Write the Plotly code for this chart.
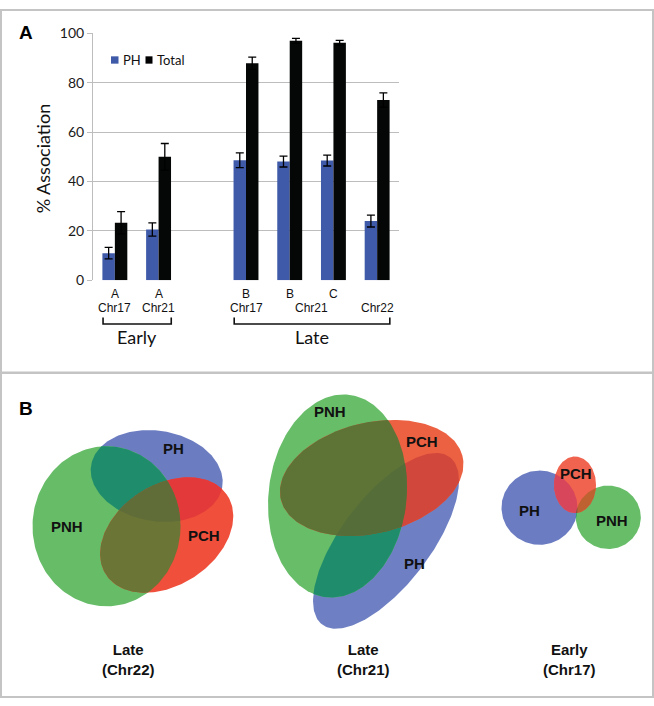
import plotly.graph_objects as go
import numpy as np

# ---------------- data (panel A) ----------------
strain = ["A", "A", "B", "B", "C", ""]
chrom = ["Chr17", "Chr21", "Chr17", "Chr21", "Chr21", "Chr22"]
stage = ["Early", "Early", "Late", "Late", "Late", "Late"]
ph = [11.0, 20.6, 48.6, 48.1, 48.5, 24.0]
ph_err = [2.3, 2.7, 3.0, 2.2, 2.2, 2.4]
total = [23.3, 50.0, 87.9, 97.0, 96.2, 73.0]
total_err = [4.5, 5.4, 2.5, 1.0, 1.0, 2.9]
y_ticks = [0, 20, 40, 60, 80, 100]

W, H = 654, 706
def px(x): return x / W
def py(y): return 1 - y / H

# x positions: one empty slot between the Early and Late groups
stages_order = []
for s in stage:
    if s not in stages_order:
        stages_order.append(s)
pos = [i + stages_order.index(s) for i, s in enumerate(stage)]

BLUE = "#3F5AA8"
fig = go.Figure()
fig.add_trace(go.Bar(x=pos, y=ph, name="PH", marker=dict(color=BLUE, line=dict(width=0)),
                     error_y=dict(type="data", array=ph_err, visible=True, color="#000000", thickness=1.3, width=4),
                     xaxis="x", yaxis="y", showlegend=False, hoverinfo="skip"))
fig.add_trace(go.Bar(x=pos, y=total, name="Total", marker=dict(color="#050707", line=dict(width=0)),
                     error_y=dict(type="data", array=total_err, visible=True, color="#000000", thickness=1.3, width=4),
                     xaxis="x", yaxis="y", showlegend=False, hoverinfo="skip"))

annotations = []
shapes = []
GRID = "#BDBDBD"

# x labels
for p, s in zip(pos, strain):
    if s:
        annotations.append(dict(x=p, xref="x", y=py(292), yref="paper", text=s, showarrow=False,
                                font=dict(family="Liberation Sans", size=12, color="#111"),
                                xanchor="center", yanchor="middle"))
groups = {}
for p, s, c in zip(pos, stage, chrom):
    groups.setdefault((s, c), []).append(p)
for (s, c), ps in groups.items():
    annotations.append(dict(x=float(np.mean(ps)), xref="x", y=py(306), yref="paper", text=c, showarrow=False,
                            font=dict(family="Liberation Sans", size=12, color="#111"),
                            xanchor="center", yanchor="middle"))
# stage brackets
for st in stages_order:
    ps = [p for p, s in zip(pos, stage) if s == st]
    x0, x1 = min(ps) - 0.27, max(ps) + 0.29
    shapes.append(dict(type="path", xref="x", yref="paper",
                       path=f"M {x0},{py(316)} L {x0},{py(322.7)} L {x1},{py(322.7)} L {x1},{py(316)}",
                       line=dict(color="#111", width=1.6)))
    annotations.append(dict(x=float(np.mean(ps)), xref="x", y=py(336), yref="paper", text=st, showarrow=False,
                            font=dict(family="Lato", size=18, color="#111"), xanchor="center", yanchor="middle"))

# y title
annotations.append(dict(x=px(43), y=py(153), xref="paper", yref="paper", text="% Association", textangle=-90,
                        showarrow=False, font=dict(family="Lato", size=18, color="#111"),
                        xanchor="center", yanchor="middle"))
# legend (manual)
shapes.append(dict(type="rect", xref="paper", yref="paper", x0=px(111), x1=px(118.5), y0=py(56), y1=py(48.5),
                   fillcolor=BLUE, line=dict(width=0)))
shapes.append(dict(type="rect", xref="paper", yref="paper", x0=px(145.5), x1=px(152.5), y0=py(56), y1=py(48.5),
                   fillcolor="#000", line=dict(width=0)))
annotations.append(dict(x=px(121), y=py(52.5), xref="paper", yref="paper", text="PH", showarrow=False,
                        font=dict(family="Lato", size=13, color="#111"), xanchor="left", yanchor="middle"))
annotations.append(dict(x=px(154.5), y=py(52.5), xref="paper", yref="paper", text="Total", showarrow=False,
                        font=dict(family="Lato", size=13, color="#111"), xanchor="left", yanchor="middle"))
# panel letters
annotations.append(dict(x=px(25.5), y=py(24), xref="paper", yref="paper", text="<b>A</b>", showarrow=False,
                        font=dict(family="Liberation Sans", size=19, color="#000"), xanchor="center", yanchor="middle"))
annotations.append(dict(x=px(25.5), y=py(409), xref="paper", yref="paper", text="<b>B</b>", showarrow=False,
                        font=dict(family="Liberation Sans", size=19, color="#000"), xanchor="center", yanchor="middle"))
# panel borders
BORDER = "#C4C4C4"
shapes.append(dict(type="rect", xref="paper", yref="paper", x0=px(1), x1=px(653), y0=py(1), y1=py(372.5),
                   line=dict(color=BORDER, width=2), fillcolor="rgba(0,0,0,0)"))
shapes.append(dict(type="rect", xref="paper", yref="paper", x0=px(1), x1=px(653), y0=py(373), y1=py(705),
                   line=dict(color=BORDER, width=2), fillcolor="rgba(0,0,0,0)"))

# ---------------- panel B: Venn diagrams ----------------
def ellipse(cx, cy, a, b, ang, n=220):
    t = np.linspace(0, 2 * np.pi, n, endpoint=False)
    r = np.deg2rad(ang)
    x = cx + a * np.cos(t) * np.cos(r) - b * np.sin(t) * np.sin(r)
    y = cy - (a * np.cos(t) * np.sin(r) + b * np.sin(t) * np.cos(r))
    return list(zip(x, y))

def area(poly):
    s = 0.0
    for i in range(len(poly)):
        x1, y1 = poly[i]; x2, y2 = poly[(i + 1) % len(poly)]
        s += x1 * y2 - x2 * y1
    return s / 2

def clip(subject, clipper):
    if area(clipper) < 0:
        clipper = clipper[::-1]
    def inside(p, a, b):
        return (b[0] - a[0]) * (p[1] - a[1]) - (b[1] - a[1]) * (p[0] - a[0]) >= 0
    def inter(s, e, a, b):
        dc = (a[0] - b[0], a[1] - b[1]); dp = (s[0] - e[0], s[1] - e[1])
        n1 = a[0] * b[1] - a[1] * b[0]; n2 = s[0] * e[1] - s[1] * e[0]
        d = dc[0] * dp[1] - dc[1] * dp[0]
        return ((n1 * dp[0] - n2 * dc[0]) / d, (n1 * dp[1] - n2 * dc[1]) / d)
    out = subject
    for i in range(len(clipper)):
        a = clipper[i]; b = clipper[(i + 1) % len(clipper)]
        inp = out; out = []
        if not inp:
            break
        s = inp[-1]
        for e in inp:
            if inside(e, a, b):
                if not inside(s, a, b):
                    out.append(inter(s, e, a, b))
                out.append(e)
            elif inside(s, a, b):
                out.append(inter(s, e, a, b))
            s = e
    return out

venn_sets = ["PH", "PNH", "PCH"]
diagrams = [
    dict(title="Late<br>(Chr22)", tx=128, shapes={
            "PNH": (106.5, 530, 74, 82, 0),
            "PH": (156.7, 478.5, 66.5, 46.3, -10),
            "PCH": (166.7, 539, 73, 51, 35)},
         labels={"PH": (173, 450), "PNH": (67, 530), "PCH": (204, 540)},
         colors={"PH": "#6B7CC1", "PNH": "#66BC67", "PCH": "#EF4F3B",
                 "PH&PNH": "#1F8D6B", "PH&PCH": "#E3393A", "PNH&PCH": "#6B7535", "ALL": "#606D39"}),
    dict(title="Late<br>(Chr21)", tx=363, shapes={
            "PNH": (337.5, 499, 69, 104.3, -6),
            "PH": (386, 545, 106.9, 44.8, 53.6),
            "PCH": (371.7, 480.5, 93.5, 56.7, 14)},
         labels={"PH": (414, 568), "PNH": (330, 412), "PCH": (422, 443)},
         colors={"PH": "#6E80C3", "PNH": "#67BD68", "PCH": "#EC6142",
                 "PH&PNH": "#1F8D6B", "PH&PCH": "#D2473C", "PNH&PCH": "#5E7437", "ALL": "#556D38"}),
    dict(title="Early<br>(Chr17)", tx=569, shapes={
            "PH": (539.5, 511, 38, 38, 0),
            "PCH": (575, 487.5, 21, 29, 0),
            "PNH": (608.3, 520.8, 32.5, 32.5, 0)},
         labels={"PH": (529, 514), "PNH": (612, 524), "PCH": (576, 476)},
         colors={"PH": "#6B7CC2", "PNH": "#67BD68", "PCH": "#F0634E",
                 "PH&PNH": "#1F8D6B", "PH&PCH": "#D8465B", "PNH&PCH": "#BF6231", "ALL": "#7A5040"}),
]

def add_poly(poly, color):
    if len(poly) < 3:
        return
    xs = [p[0] for p in poly] + [poly[0][0]]
    ys = [p[1] for p in poly] + [poly[0][1]]
    fig.add_trace(go.Scatter(x=xs, y=ys, fill="toself", fillcolor=color, mode="lines",
                             line=dict(width=0, color=color), xaxis="x2", yaxis="y2",
                             showlegend=False, hoverinfo="skip"))

for d in diagrams:
    polys = {k: ellipse(*d["shapes"][k]) for k in venn_sets}
    for k in venn_sets:
        add_poly(polys[k], d["colors"][k])
    for a_, b_ in [("PH", "PNH"), ("PH", "PCH"), ("PNH", "PCH")]:
        add_poly(clip(polys[a_], polys[b_]), d["colors"][f"{a_}&{b_}"])
    tri = clip(clip(polys["PH"], polys["PNH"]), polys["PCH"])
    add_poly(tri, d["colors"]["ALL"])
    for k, (lx, ly) in d["labels"].items():
        annotations.append(dict(x=lx, y=ly, xref="x2", yref="y2", text=f"<b>{k}</b>", showarrow=False,
                                font=dict(family="Liberation Sans", size=15, color="#111"),
                                xanchor="center", yanchor="middle"))
    annotations.append(dict(x=d["tx"], y=666.5, xref="x2", yref="y2", text=f"<b>{d['title']}</b>",
                            showarrow=False, font=dict(family="Liberation Sans", size=15, color="#111"),
                            xanchor="center", yanchor="middle"))

fig.update_layout(
    width=W, height=H, margin=dict(l=0, r=0, t=0, b=0),
    paper_bgcolor="white", plot_bgcolor="rgba(0,0,0,0)",
    barmode="group", bargap=0.43, bargroupgap=0,
    xaxis=dict(domain=[px(93), px(399)], range=[-0.5, 6.5], showticklabels=False, showgrid=False,
               zeroline=False, showline=False, ticks="", fixedrange=True),
    yaxis=dict(domain=[py(278), py(25)], range=[0, 100], tickvals=y_ticks, showgrid=True, gridcolor=GRID,
               gridwidth=1, zeroline=False, showline=True, linecolor=GRID, linewidth=1,
               ticks="outside", ticklen=5, tickcolor=GRID,
               tickfont=dict(family="Lato", size=14, color="#1a1a1a"), fixedrange=True),
    xaxis2=dict(domain=[0, 1], range=[0, W], visible=False, anchor="y2", fixedrange=True),
    yaxis2=dict(domain=[0, py(373)], range=[H, 373], visible=False, anchor="x2", fixedrange=True),
    annotations=annotations, shapes=shapes,
)

fig.write_html("out.html", config={"displayModeBar": False},
               post_script="document.body.style.margin='0';document.body.style.overflow='hidden';")
